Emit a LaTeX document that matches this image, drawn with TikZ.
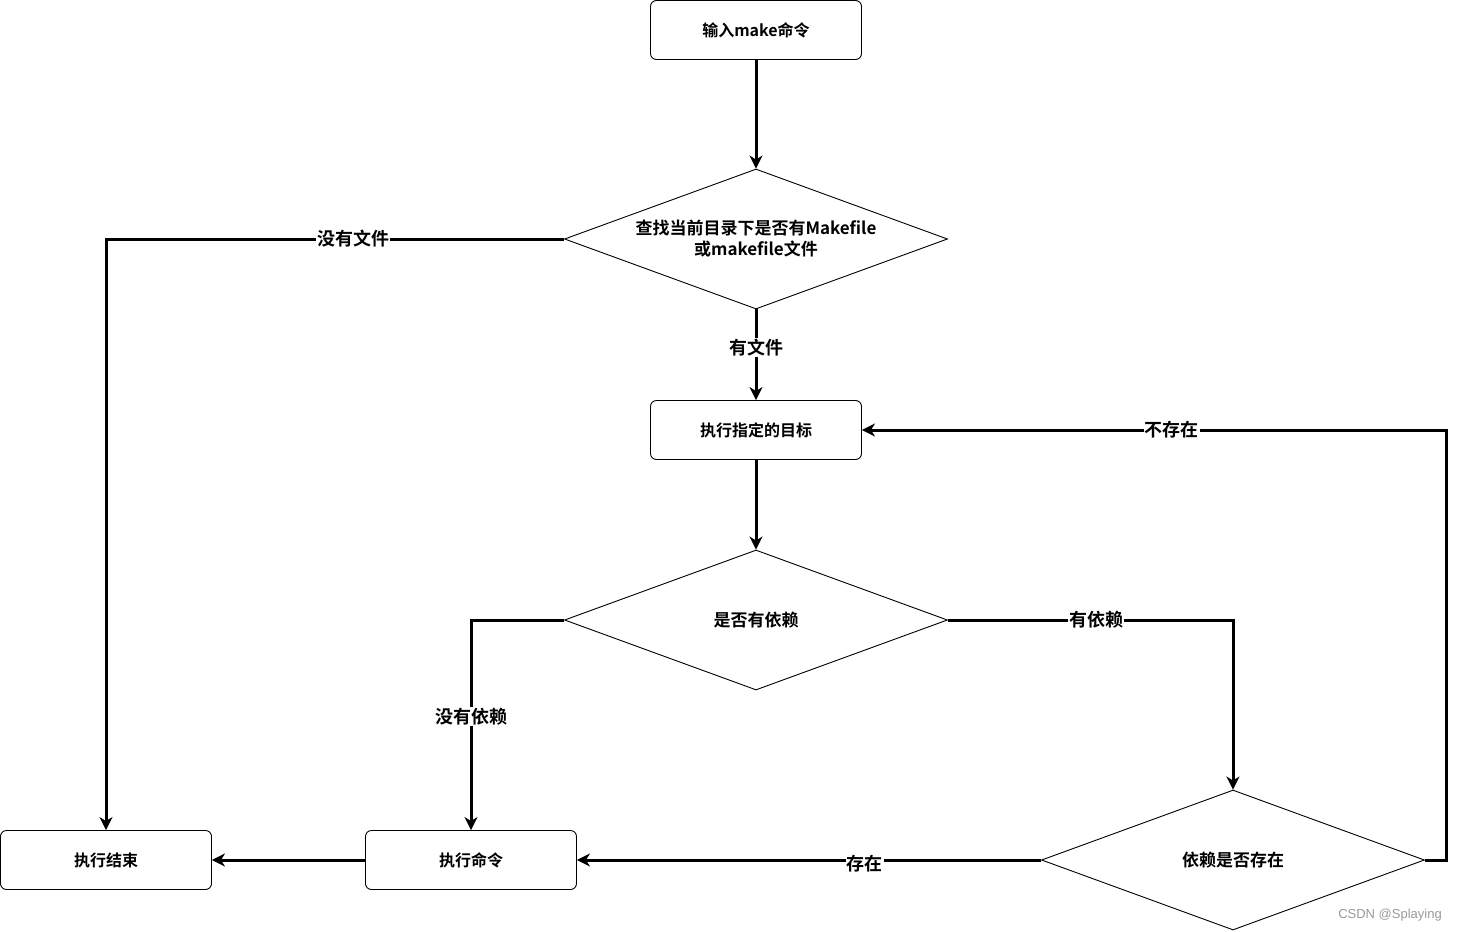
\documentclass[tikz,border=0pt]{standalone}
\usepackage{fontspec}
\setmainfont{Noto Sans CJK SC}[BoldFont={Noto Sans CJK SC Bold}]
\newfontfamily\markfont{Liberation Sans}
\usetikzlibrary{arrows.meta,shapes.geometric}

\begin{document}
\begin{tikzpicture}[x=1pt,y=-1pt,>={Stealth[length=13pt,width=13pt,inset=4pt]},
  box/.style={draw,line width=0.9pt,rounded corners=6pt,minimum width=211pt,minimum height=59pt,font=\fontsize{16}{19}\selectfont\bfseries},
  decision/.style={draw,line width=0.9pt,diamond,aspect=2.74,minimum width=383pt,minimum height=140pt,inner sep=0pt,align=center,font=\fontsize{17}{21}\selectfont\bfseries},
  link/.style={->,line width=3pt},
  lbl/.style={fill=white,inner sep=1pt,font=\fontsize{18}{21}\selectfont\bfseries}]
\useasboundingbox (0,0) rectangle (1457,932);
\node[box] (make) at (756,30) {输入make命令};
\node[decision] (find) at (756,239) {查找当前目录下是否有Makefile\\或makefile文件};
\node[box] (target) at (756,430) {执行指定的目标};
\node[decision] (dep) at (756,620) {是否有依赖};
\node[decision] (exist) at (1233,860) {依赖是否存在};
\node[box] (cmd) at (471,860) {执行命令};
\node[box] (done) at (106,860) {执行结束};
\coordinate (loop) at (1446,860);

\draw[link] (make) -- (find);
\draw[link] (find) -- node[lbl,pos=0.42] {有文件} (target);
\draw[link] (find.west) -| node[lbl,pos=0.23] {没有文件} (done.north);
\draw[link] (target) -- (dep);
\draw[link] (dep.west) -| node[lbl,pos=0.73] {没有依赖} (cmd.north);
\draw[link] (dep.east) -| node[lbl,pos=0.26] {有依赖} (exist.north);
\draw[link] (exist.east) -- (loop) |- node[lbl,pos=0.735] {不存在} (target.east);
\draw[link] (exist.west) -- node[lbl,pos=0.38,yshift=-4pt] {存在} (cmd.east);
\draw[link] (cmd) -- (done);

\node[text=black!40,font=\markfont\fontsize{13}{15}\selectfont] (mark) at (1390,915) {CSDN @Splaying};
\end{tikzpicture}
\end{document}
